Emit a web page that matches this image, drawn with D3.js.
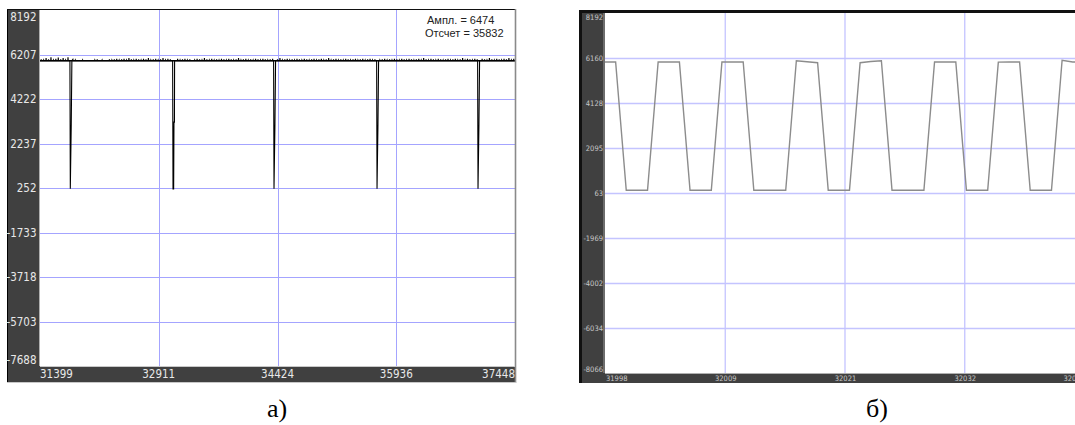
<!DOCTYPE html>
<html>
<head>
<meta charset="utf-8">
<script src="https://cdn.jsdelivr.net/npm/d3@7"></script>
<style>
  html, body { margin: 0; padding: 0; background: #fff; }
  svg { display: block; }
  .tick-a { font-family: "Liberation Sans Narrow", "DejaVu Sans Condensed", "Arial Narrow", sans-serif; font-size: 11.5px; fill: #e8e8e8; }
  .tick-b { font-family: "Liberation Sans Narrow", "DejaVu Sans Condensed", sans-serif; font-size: 7.5px; fill: #c8c8c8; }
  .legend { font-family: "Liberation Sans", Arial, sans-serif; font-size: 11px; fill: #222; }
  .caption { font-family: "Liberation Serif", "Times New Roman", serif; font-size: 26px; fill: #000; }
</style>
</head>
<body>
<svg id="chart" width="1075" height="425"></svg>
<script>
// ---------- Panel а): long record, sample counter vs. amplitude ----------
const aXDomain = [31399, 37448];
const aYDomain = [-7688, 8192];
const aXTicks = [31399, 32911, 34424, 35936, 37448];
const aYTicks = [8192, 6207, 4222, 2237, 252, -1733, -3718, -5703, -7688];
const aBase = 5930;

// noise peaks riding on the baseline, evenly spread over the record
const aNoise = [
  5990, 5960, 6050, 5990, 6080, 5960, 6020, 6070, 5990, 6050, 5960, 6080, 6020, 5990, 5960,
  5930, 5930, 5960, 5930, 5930, 5930, 5930, 5960, 5990, 5930, 5960, 5930, 5930, 5990, 5960,
  5990, 6020, 5960, 5990, 6020, 5960, 6050, 5990, 5960, 6020, 5990, 5960, 6020, 5990, 6050,
  5960, 5990, 6020, 5960, 5990, 6050, 5960, 6020, 5990, 5960, 5990, 6020, 5960, 5990, 6020,
  5960, 5990, 5930, 5960, 6020, 5990, 5960, 6050, 5990, 5960, 6020, 5960, 5990, 5960, 6020,
  5990, 5960, 6020, 5990, 5960, 5990, 6050, 5960, 5990, 6020, 5960, 5990, 5960, 6020, 5990,
  5960, 6020, 5990, 5960, 5990, 6020, 5960, 5990, 6050, 5960, 5990, 6020, 5960, 5990, 5960,
  6020, 5990, 5960, 6020, 5990, 5960, 5990, 6020, 5960, 5990, 6020, 5960, 5990, 6050, 5960,
  5990, 6020, 5960, 5990, 5960, 6020, 5990, 5960, 5990, 6020, 5960, 5990, 6020, 5960, 5990,
  6020, 5960, 5990, 6050, 5960, 5990, 6020, 5960, 5990, 5960, 6020, 5990, 5960, 6020, 5990,
  5960, 6020, 5990, 5960, 5990, 6020, 5960, 6050, 5990, 5960, 6020, 5990, 5960, 6020, 5990,
  5960, 5990, 6020, 5960, 5990, 6020, 5960, 5990, 6050, 5960, 6020, 5990, 5960, 6020, 5990,
  5960, 6020, 5990, 5960, 6050, 5990, 5960, 6020, 5990, 5960, 6020, 5990, 6050, 5960, 6020
];
// short dropouts: sample number, deepest value, partial-depth value
const aDipAt   = [31785, 33093, 34379, 35691, 36977];
const aDipLow  = [215, 215, 215, 215, 215];
const aDipMid  = [3107, 3190, 3107, 3107, 3107];
const aAmpl = 6474;
const aCount = 35832;

// ---------- Panel б): zoomed fragment, sample by sample ----------
const bXDomain = [31998, 32043.06];
const bXTickLabels = ["31998", "32009", "32021", "32032", "32043"];
const bYDomain = [-8066, 8192];
const bYTicks = [8192, 6160, 4128, 2095, 63, -1969, -4002, -6034, -8066];
const bStart = 31998;
const bValues = [
  5979, 5979, 185, 185, 185,
  5979, 5979, 5979, 185, 185, 185,
  5979, 5979, 5979, 185, 185, 185, 185,
  6038, 5990, 5948, 185, 185, 185,
  5948, 6000, 6038, 185, 185, 185, 185,
  5979, 5979, 5979, 185, 185, 185,
  5975, 5979, 5979, 185, 185, 185,
  6056, 5979, 5970
];

const svg = d3.select("#chart");
const DARK = "#404040";

// ===================== Panel а) =====================
(function () {
  const L = 40, R = 515, T = 10, B = 366;
  const x = d3.scaleLinear().domain(aXDomain).range([L, R]);
  const y = d3.scaleLinear().domain(aYDomain).range([B, T]);
  const g = svg.append("g");

  // frame: dark axis strips
  g.append("rect").attr("x", 8).attr("y", T).attr("width", L - 8).attr("height", 382 - T).attr("fill", DARK);
  g.append("rect").attr("x", 8).attr("y", B).attr("width", R - 8).attr("height", 382 - B).attr("fill", DARK);
  g.append("rect").attr("x", L).attr("y", T).attr("width", R - L).attr("height", B - T).attr("fill", "#fff");

  // grid
  const gridStyle = s => { s.select(".domain").remove(); s.selectAll("line").attr("stroke", "#a4a4ff").attr("shape-rendering", "crispEdges"); };
  g.append("g").attr("transform", `translate(${L},0)`)
    .call(d3.axisLeft(y).tickValues(aYTicks.slice(1, -1)).tickSize(-(R - L)).tickFormat(""))
    .call(gridStyle);
  g.append("g").attr("transform", `translate(0,${B})`)
    .call(d3.axisBottom(x).tickValues(aXTicks.slice(1, -1)).tickSize(-(B - T)).tickFormat(""))
    .call(gridStyle);

  // signal: narrow noise spikes on the baseline plus the dropouts
  const span = aXDomain[1] - aXDomain[0];
  const step = span / aNoise.length;
  const w = 3;
  let pts = [{ s: aXDomain[0], v: aBase }];
  aNoise.forEach((v, i) => {
    const s = aXDomain[0] + (i + 0.5) * step;
    pts.push({ s: s - w, v: aBase }, { s: s, v: v }, { s: s + w, v: aBase });
  });
  pts.push({ s: aXDomain[1], v: aBase });
  pts = pts.filter(p => !aDipAt.some(d => p.s > d - 6 && p.s < d + 30));
  aDipAt.forEach((s, k) => {
    pts.push({ s: s - 5, v: aBase });
    pts.push({ s: s, v: aDipLow[k] });
    if (k === 1) pts.push({ s: s + 8, v: aDipLow[k] });
    pts.push({ s: s + 12, v: aDipMid[k] });
    if (k === 1) pts.push({ s: s + 18, v: aDipMid[k] });
    pts.push({ s: s + 20, v: aBase });
  });
  pts.sort((a, b) => a.s - b.s);
  g.append("path")
    .datum(pts)
    .attr("fill", "none").attr("stroke", "#000").attr("stroke-width", 1.1)
    .attr("d", d3.line().x(d => x(d.s)).y(d => y(d.v)));
  // flat baseline trace
  g.append("line").attr("x1", L).attr("x2", R).attr("y1", y(aBase)).attr("y2", y(aBase))
    .attr("stroke", "#000").attr("stroke-width", 1.6);

  // frame edges
  g.append("line").attr("x1", 7.5).attr("x2", 7.5).attr("y1", 9).attr("y2", 382).attr("stroke", "#000");
  g.append("line").attr("x1", 7).attr("x2", R + 1).attr("y1", 9.5).attr("y2", 9.5).attr("stroke", "#111");
  g.append("line").attr("x1", R + 0.5).attr("x2", R + 0.5).attr("y1", 9).attr("y2", 383).attr("stroke", "#8a8a8a").attr("stroke-width", 1.6);
  g.append("line").attr("x1", 7).attr("x2", R + 1).attr("y1", 382.5).attr("y2", 382.5).attr("stroke", "#c8c8c8");
  g.append("line").attr("x1", L - 0.5).attr("x2", L - 0.5).attr("y1", T).attr("y2", B).attr("stroke", "#b0b0b0");
  g.append("line").attr("x1", L).attr("x2", R).attr("y1", B + 0.5).attr("y2", B + 0.5).attr("stroke", "#c8c8c8");

  // tick labels
  g.selectAll("text.yl").data(aYTicks).join("text")
    .attr("class", "tick-a").attr("text-anchor", "end")
    .attr("x", 36.5)
    .attr("y", (d, i) => y(d) + (i === 0 ? 7 : i === aYTicks.length - 1 ? -6 : 0))
    .attr("dy", "0.36em").text(d => d);
  g.selectAll("text.xl").data(aXTicks).join("text")
    .attr("class", "tick-a")
    .attr("text-anchor", (d, i) => i === 0 ? "start" : i === aXTicks.length - 1 ? "end" : "middle")
    .attr("x", d => x(d))
    .attr("y", 374).attr("dy", "0.36em").text(d => d);

  // readout
  g.append("text").attr("class", "legend").attr("x", 427).attr("y", 24).text(`Ампл. = ${aAmpl}`);
  g.append("text").attr("class", "legend").attr("x", 425).attr("y", 37).text(`Отсчет = ${aCount}`);
})();

// ===================== Panel б) =====================
(function () {
  const L = 605, R = 1084, T = 13, B = 373;
  const x = d3.scaleLinear().domain(bXDomain).range([L, R]);
  const y = d3.scaleLinear().domain(bYDomain).range([B, T]);
  const g = svg.append("g");

  g.append("rect").attr("x", 581).attr("y", 11).attr("width", L - 581).attr("height", 383 - 11).attr("fill", DARK);
  g.append("rect").attr("x", 581).attr("y", B).attr("width", R - 581).attr("height", 383 - B).attr("fill", DARK);
  g.append("rect").attr("x", L).attr("y", T).attr("width", R - L).attr("height", B - T).attr("fill", "#fff");

  const xTickVals = d3.range(bXTickLabels.length).map(i => bXDomain[0] + i * (bXDomain[1] - bXDomain[0]) / (bXTickLabels.length - 1));
  const gridStyle = s => { s.select(".domain").remove(); s.selectAll("line").attr("stroke", "#c4c4ff").attr("stroke-width", 1.3); };
  g.append("g").attr("transform", `translate(${L},0)`)
    .call(d3.axisLeft(y).tickValues(bYTicks.slice(1, -1)).tickSize(-(R - L)).tickFormat(""))
    .call(gridStyle);
  g.append("g").attr("transform", `translate(0,${B})`)
    .call(d3.axisBottom(x).tickValues(xTickVals.slice(1, -1)).tickSize(-(B - T)).tickFormat(""))
    .call(gridStyle);

  g.append("path")
    .datum(bValues)
    .attr("fill", "none").attr("stroke", "#8c8c8c").attr("stroke-width", 1.4)
    .attr("d", d3.line().x((d, i) => x(bStart + i)).y(d => y(d)));

  // frame edges
  g.append("rect").attr("x", 579).attr("y", 10).attr("width", 3).attr("height", 373).attr("fill", "#111");
  g.append("rect").attr("x", 579).attr("y", 10).attr("width", 496).attr("height", 3).attr("fill", "#111");
  g.append("line").attr("x1", L - 1).attr("x2", L - 1).attr("y1", T).attr("y2", B).attr("stroke", "#9a9a9a");
  g.append("line").attr("x1", L).attr("x2", R).attr("y1", B + 0.5).attr("y2", B + 0.5).attr("stroke", "#b0b0b0");

  g.selectAll("text.yl").data(bYTicks).join("text")
    .attr("class", "tick-b").attr("text-anchor", "end")
    .attr("x", 603)
    .attr("y", (d, i) => y(d) + (i === 0 ? 4 : i === bYTicks.length - 1 ? -4 : 0))
    .attr("dy", "0.36em").text(d => d);
  g.selectAll("text.xl").data(xTickVals).join("text")
    .attr("class", "tick-b")
    .attr("text-anchor", (d, i) => i === 0 ? "start" : i === xTickVals.length - 1 ? "end" : "middle")
    .attr("x", d => x(d) + 1)
    .attr("y", 378.5).attr("dy", "0.36em").text((d, i) => bXTickLabels[i]);
})();

// captions
svg.append("text").attr("class", "caption").attr("x", 277).attr("y", 417).attr("text-anchor", "middle").text("а)");
svg.append("text").attr("class", "caption").attr("x", 877).attr("y", 417).attr("text-anchor", "middle").text("б)");
</script>
</body>
</html>
